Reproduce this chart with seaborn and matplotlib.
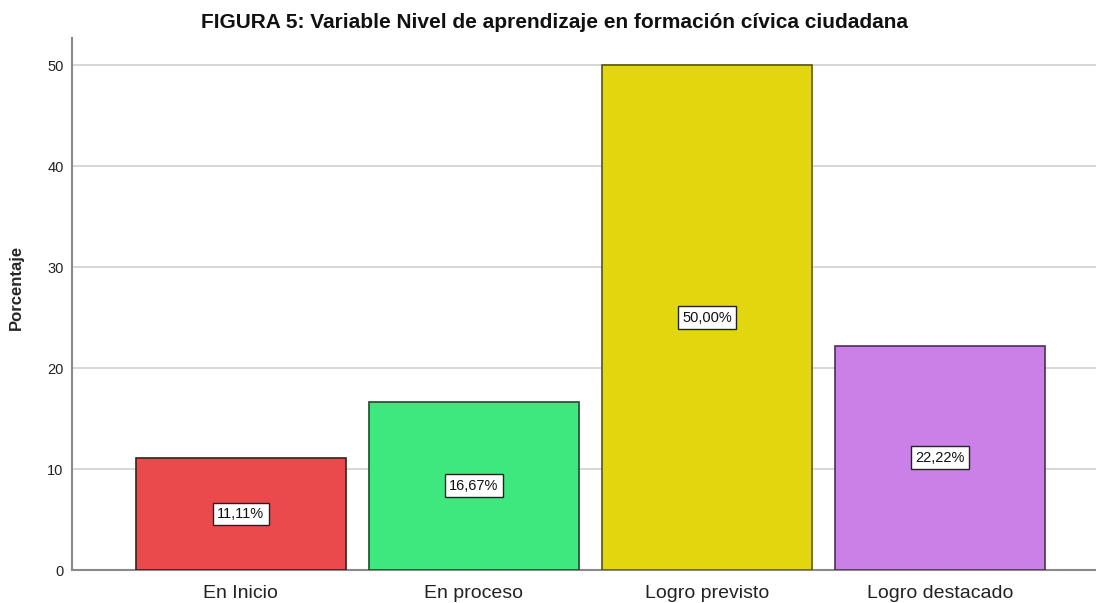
import pandas as pd
import seaborn as sns
import matplotlib.pyplot as plt

categories = ['En Inicio', 'En proceso', 'Logro previsto', 'Logro destacado']
percentages = [11.11, 16.67, 50.00, 22.22]
colors = ['#EB4A4C', '#3FE87F', '#E2D70E', '#CB80E8']
edge_colors = ['#3a2020', '#1f4a2c', '#5c5510', '#4a3050']

df = pd.DataFrame({'Nivel': categories, 'Porcentaje': percentages})

sns.set_style("white")
plt.rcParams['font.family'] = ['Liberation Sans', 'DejaVu Sans']

fig = plt.figure(figsize=(10.96, 6.03), dpi=100)
ax = fig.add_axes([0.0657, 0.0547, 0.9343, 0.8823])

sns.barplot(data=df, x='Nivel', y='Porcentaje', hue='Nivel', palette=colors,
            saturation=1, width=0.9, legend=False, ax=ax, zorder=3)
for bar, ec in zip(ax.patches, edge_colors):
    bar.set_edgecolor(ec)
    bar.set_linewidth(1.2)

for i, v in enumerate(percentages):
    ax.text(i, v / 2, f'{v:.2f}%'.replace('.', ','), ha='center', va='center',
            fontsize=10.5, color='#111', zorder=5,
            bbox=dict(boxstyle='square,pad=0.3', facecolor='white',
                      edgecolor='#222', linewidth=1))

ax.set_xlim(-0.725, 3.67)
ax.set_ylim(0, 52.7)
ax.set_yticks([0, 10, 20, 30, 40, 50])
ax.yaxis.grid(True, color='#cfcfcf', linewidth=1.2, zorder=0)
ax.set_axisbelow(True)
for s in ['top', 'right']:
    ax.spines[s].set_visible(False)
for s in ['left', 'bottom']:
    ax.spines[s].set_color('#8a8a8a')
    ax.spines[s].set_linewidth(1.5)
ax.tick_params(axis='x', labelsize=14, length=0, pad=11, labelcolor='#222')
ax.tick_params(axis='y', labelsize=10.5, length=0, pad=6, labelcolor='#222')
ax.set_xlabel('')
ax.set_ylabel('Porcentaje', fontsize=12, fontweight='bold', labelpad=14)
ax.yaxis.set_label_coords(-0.047, 0.532)

fig.text(0.5055, 0.962, 'FIGURA 5: Variable Nivel de aprendizaje en formación cívica ciudadana',
         ha='center', va='center', fontsize=15, fontweight='bold', color='#111')

fig.savefig('out.png', dpi=100)
plt.close()
